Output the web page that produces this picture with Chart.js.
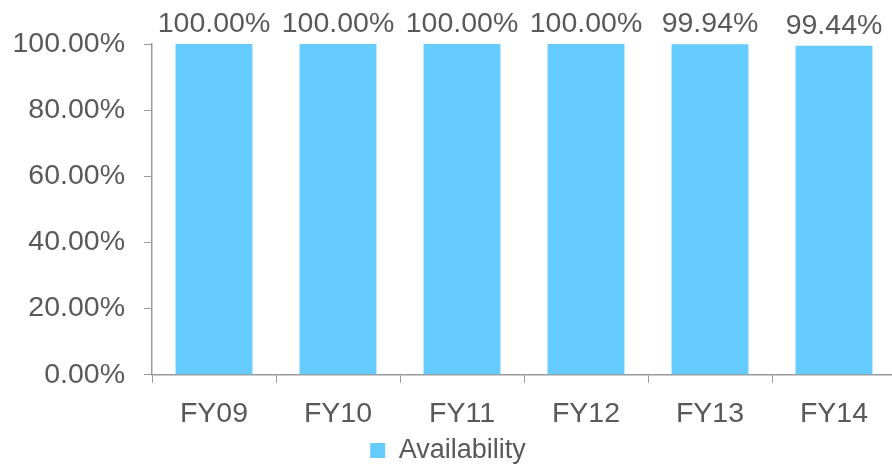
<!DOCTYPE html>
<html>
<head>
<meta charset="utf-8">
<script src="https://cdn.jsdelivr.net/npm/chart.js@4.4.0/dist/chart.umd.min.js"></script>
<style>
  html, body { margin: 0; padding: 0; background: #fff; overflow: hidden; }
  #wrap { width: 892px; height: 465px; overflow: hidden; }
</style>
</head>
<body>
<div id="wrap"><canvas id="chart" width="918" height="465"></canvas></div>
<script>
const categories = ['FY09', 'FY10', 'FY11', 'FY12', 'FY13', 'FY14'];
const availability = [100.00, 100.00, 100.00, 100.00, 99.94, 99.44];
const yTicks = [0, 20, 40, 60, 80, 100];

const TEXT = '#595959';
const AXIS = '#9a9a9a';
const FONT = 'Liberation Sans, Arial, sans-serif';

// draws the value above each bar
const valueLabels = {
    id: 'valueLabels',
    afterDatasetsDraw(chart) {
        const ctx = chart.ctx;
        const meta = chart.getDatasetMeta(0);
        ctx.save();
        ctx.font = '28.5px ' + FONT;
        ctx.fillStyle = TEXT;
        ctx.textAlign = 'center';
        ctx.textBaseline = 'alphabetic';
        meta.data.forEach((bar, i) => {
            ctx.fillText(availability[i].toFixed(2) + '%', bar.x, bar.y - 12);
        });
        ctx.restore();
    }
};

new Chart(document.getElementById('chart'), {
    type: 'bar',
    data: {
        labels: categories,
        datasets: [{
            label: 'Availability',
            data: availability,
            backgroundColor: '#66CCFF',
            borderWidth: 0,
            categoryPercentage: 0.62,
            barPercentage: 1.0,
        }],
    },
    options: {
        responsive: false,
        animation: false,
        devicePixelRatio: 1,
        layout: { padding: { top: 44, left: 0, right: 22, bottom: -9 } },
        plugins: {
            tooltip: { enabled: false },
            legend: {
                position: 'bottom',
                labels: {
                    color: TEXT,
                    font: { family: FONT, size: 27 },
                    boxWidth: 15,
                    boxHeight: 15,
                    padding: 0,
                },
            },
        },
        scales: {
            x: {
                afterFit(scale) { scale.height -= 8; },
                grid: { display: true, drawOnChartArea: false, offset: true, tickLength: 8, color: AXIS, tickColor: AXIS },
                border: { color: AXIS, width: 1.5 },
                ticks: { color: TEXT, font: { family: FONT, size: 28.5 }, padding: 14 },
            },
            y: {
                min: 0,
                max: 100,
                afterFit(scale) { scale.width = 152; },
                afterBuildTicks(scale) { scale.ticks = yTicks.map(v => ({ value: v })); },
                grid: { display: true, drawOnChartArea: false, tickLength: 8, color: AXIS, tickColor: AXIS },
                border: { color: AXIS, width: 1.5 },
                ticks: {
                    color: TEXT,
                    font: { family: FONT, size: 28.5 },
                    padding: 19,
                    callback: v => v.toFixed(2) + '%',
                },
            },
        },
    },
    plugins: [valueLabels],
});
</script>
</body>
</html>
